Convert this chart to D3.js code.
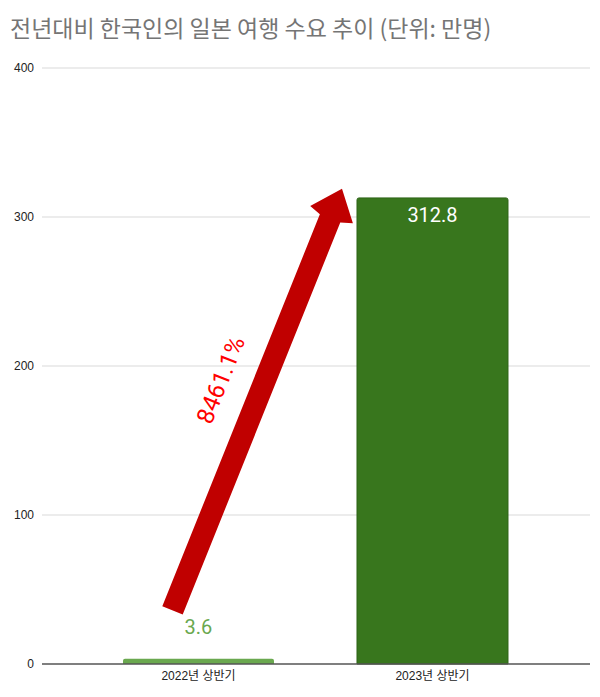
<!DOCTYPE html>
<html><head><meta charset="utf-8">
<script src="https://cdn.jsdelivr.net/npm/d3@7"></script>
<style>body{margin:0;background:#fff}svg{display:block}</style>
</head><body>
<svg id="c" width="600" height="697"></svg>
<script>
const title = "전년대비 한국인의 일본 여행 수요 추이 (단위: 만명)";
const categories = ["2022년 상반기", "2023년 상반기"];
const values = [3.6, 312.8];
const barColors = ["#6aa84f", "#38761d"];
const labelColors = ["#6aa84f", "#ffffff"];
const yTicks = [0, 100, 200, 300, 400];
const growthLabel = "8461.1%";

const svg = d3.select("#c");
const font = "Roboto, 'Liberation Sans', Arial, 'Noto Sans CJK KR', sans-serif";
const gridX0 = 42, gridX1 = 590;

const y = d3.scaleLinear().domain([0, 400]).range([664, 68]);
const x = d3.scaleBand().domain(categories).range([81.5, 549.5]).paddingInner(0.3547).paddingOuter(0.1774);

svg.append("text").attr("x", 10).attr("y", 37).text(title)
  .attr("font-family", "'Noto Sans CJK KR', " + font).attr("font-size", 23).attr("fill", "#757575");

// gridlines
svg.append("g").selectAll("line").data(yTicks.filter(d => d > 0)).join("line")
  .attr("x1", gridX0).attr("x2", gridX1).attr("y1", d => y(d)).attr("y2", d => y(d))
  .attr("stroke", "#d9d9d9").attr("stroke-width", 1);

// y axis labels
const yAxis = d3.axisLeft(y).tickValues(yTicks).tickSize(0).tickPadding(0);
const gy = svg.append("g").attr("transform", `translate(34,0)`).call(yAxis);
gy.select(".domain").remove();
gy.selectAll("text").attr("font-family", "'Liberation Sans', Arial, sans-serif").attr("font-size", 12).attr("fill", "#222");

// bars
values.forEach((v, i) => {
  const x0 = x(categories[i]), w = x.bandwidth(), y0 = y(v);
  const r = 2;
  const p = `M${x0},${y(0)} L${x0},${y0 + r} Q${x0},${y0} ${x0 + r},${y0} L${x0 + w - r},${y0} Q${x0 + w},${y0} ${x0 + w},${y0 + r} L${x0 + w},${y(0)} Z`;
  svg.append("path").attr("d", p).attr("fill", barColors[i])
    .attr("stroke", i === 1 ? "#2e6417" : "none").attr("stroke-width", i === 1 ? 1 : 0);
});

// baseline
svg.append("line").attr("x1", gridX0).attr("x2", gridX1).attr("y1", y(0)).attr("y2", y(0))
  .attr("stroke", "#555").attr("stroke-width", 1.3);

// x axis labels
const xAxis = d3.axisBottom(x).tickSize(0).tickPadding(0);
const gx = svg.append("g").attr("transform", `translate(0,${y(0) + 16})`).call(xAxis);
gx.select(".domain").remove();
gx.selectAll("text").attr("font-family", "'Liberation Sans', Arial, 'Noto Sans CJK KR', sans-serif").attr("font-size", 12).attr("fill", "#222").attr("dy", 0);

// value labels
values.forEach((v, i) => {
  const cx = x(categories[i]) + x.bandwidth() / 2;
  const inside = i === 1;
  svg.append("text").attr("x", cx).attr("y", inside ? y(v) + 24 : y(v) - 25)
    .attr("text-anchor", "middle").attr("font-family", font).attr("font-size", 20)
    .attr("fill", labelColors[i]).text(v);
});

// arrow annotation
const tail = [x(categories[0]) + x.bandwidth() / 2 - 26, y(36)];
const tip = [x(categories[1]) - 15, y(319)];
const dx = tip[0] - tail[0], dy = tip[1] - tail[1];
const len = Math.hypot(dx, dy);
const ang = Math.atan2(dy, dx) * 180 / Math.PI;
const sw = 11, hw = 23, hl = 32;
const ag = svg.append("g").attr("transform", `translate(${tail[0]},${tail[1]}) rotate(${ang})`);
ag.append("path").attr("fill", "#c00000")
  .attr("d", `M0,${-sw} L${len - hl},${-sw} L${len - hl + 4},${-hw} L${len},0 L${len - hl + 4},${hw} L${len - hl},${sw} L0,${sw} Z`);
ag.append("text").attr("x", len * 0.51).attr("y", -41).attr("text-anchor", "middle")
  .attr("dominant-baseline", "central")
  .attr("font-family", font).attr("font-size", 24).attr("fill", "#ff0000")
  .text(growthLabel);
</script>
</body></html>
